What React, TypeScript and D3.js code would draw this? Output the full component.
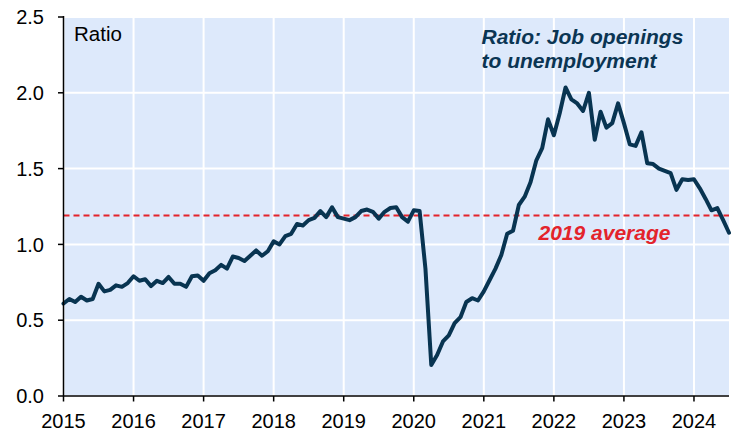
import React from "react";
import * as d3 from "d3";

const startYear = 2015;
const ratio2015 = [0.61, 0.64, 0.62, 0.655, 0.63, 0.64, 0.74, 0.69, 0.7, 0.73, 0.72, 0.745];
const ratio2016 = [0.79, 0.76, 0.77, 0.725, 0.76, 0.745, 0.785, 0.74, 0.74, 0.72, 0.79, 0.795];
const ratio2017 = [0.76, 0.81, 0.83, 0.865, 0.84, 0.92, 0.91, 0.89, 0.925, 0.96, 0.925, 0.955];
const ratio2018 = [1.02, 1.0, 1.055, 1.07, 1.135, 1.125, 1.16, 1.175, 1.22, 1.18, 1.245, 1.18];
const ratio2019 = [1.17, 1.16, 1.18, 1.22, 1.23, 1.215, 1.17, 1.215, 1.24, 1.245, 1.18, 1.15];
const ratio2020 = [1.225, 1.22, 0.84, 0.205, 0.27, 0.36, 0.4, 0.48, 0.52, 0.62, 0.645, 0.63];
const ratio2021 = [0.69, 0.765, 0.84, 0.93, 1.07, 1.09, 1.26, 1.315, 1.41, 1.555, 1.635, 1.825];
const ratio2022 = [1.72, 1.865, 2.035, 1.957, 1.93, 1.88, 2.0, 1.69, 1.875, 1.77, 1.8, 1.93];
const ratio2023 = [1.8, 1.66, 1.65, 1.74, 1.535, 1.53, 1.5, 1.485, 1.47, 1.36, 1.43, 1.425];
const ratio2024 = [1.43, 1.37, 1.3, 1.225, 1.24, 1.16, 1.077];

const avg2019 = 1.19;
const xTicks = [2015, 2016, 2017, 2018, 2019, 2020, 2021, 2022, 2023, 2024];
const yTicks = [0, 0.5, 1.0, 1.5, 2.0, 2.5];
const titleLines = ["Ratio: Job openings", "to unemployment"];
const unitLabel = "Ratio";
const avgLabel = "2019 average";

const allValues = [
  ...ratio2015, ...ratio2016, ...ratio2017, ...ratio2018, ...ratio2019,
  ...ratio2020, ...ratio2021, ...ratio2022, ...ratio2023, ...ratio2024,
];
const series = allValues.map((v, i) => ({ t: startYear + i / 12, v }));

const W = 735;
const H = 430;
const left = 63.5;
const right = 729;
const top = 17;
const bottom = 396;
const font = "'Liberation Sans', Arial, sans-serif";

export default function App() {
  const x = d3.scaleLinear().domain([2015, 2024.5]).range([left, right]);
  const y = d3.scaleLinear().domain([0, 2.5]).range([bottom, top]);
  const line = d3
    .line<{ t: number; v: number }>()
    .x((d) => x(d.t))
    .y((d) => y(d.v));

  return (
    <div style={{ position: "absolute", left: 0, top: 0 }}>
      <svg width={W} height={H} style={{ display: "block", fontFamily: font }}>
        <rect x={left} y={top} width={right - left} height={bottom - top} fill="#dde9fb" />
        {yTicks.map((t) => (
          <line key={"gy" + t} x1={left} x2={right} y1={y(t)} y2={y(t)} stroke="#ffffff" strokeWidth={2} />
        ))}
        {xTicks.map((t) => (
          <line key={"gx" + t} x1={x(t)} x2={x(t)} y1={top} y2={bottom} stroke="#ffffff" strokeWidth={2} />
        ))}
        <line
          x1={left}
          x2={right}
          y1={y(avg2019)}
          y2={y(avg2019)}
          stroke="#e3232b"
          strokeWidth={2}
          strokeDasharray="6 4"
        />
        <path d={line(series) || ""} fill="none" stroke="#083451" strokeWidth={4} strokeLinejoin="round" strokeLinecap="round" />
        {/* axes */}
        <line x1={left} x2={left} y1={top - 1} y2={bottom} stroke="#000" strokeWidth={1.5} />
        <line x1={left} x2={right} y1={bottom} y2={bottom} stroke="#000" strokeWidth={1.5} />
        {yTicks.map((t) => (
          <g key={"ty" + t}>
            <line x1={left - 5.5} x2={left} y1={y(t)} y2={y(t)} stroke="#000" strokeWidth={1.5} />
            <text x={44} y={y(t)} dy="0.36em" textAnchor="end" fontSize={20} fill="#000">
              {d3.format(".1f")(t)}
            </text>
          </g>
        ))}
        {xTicks.map((t) => (
          <g key={"tx" + t}>
            <line x1={x(t)} x2={x(t)} y1={bottom} y2={bottom + 5.5} stroke="#000" strokeWidth={1.5} />
            <text x={x(t)} y={427.5} textAnchor="middle" fontSize={20} fill="#000">
              {t}
            </text>
          </g>
        ))}
        <text x={74} y={40.5} fontSize={20.5} fill="#000">
          {unitLabel}
        </text>
        {titleLines.map((s, i) => (
          <text
            key={s}
            x={481.5}
            y={44.3 + i * 24}
            fontSize={21}
            fontWeight="bold"
            fontStyle="italic"
            fill="#0b3553"
          >
            {s}
          </text>
        ))}
        <text x={538.5} y={240} fontSize={21} fontWeight="bold" fontStyle="italic" fill="#e3232b">
          {avgLabel}
        </text>
      </svg>
    </div>
  );
}
